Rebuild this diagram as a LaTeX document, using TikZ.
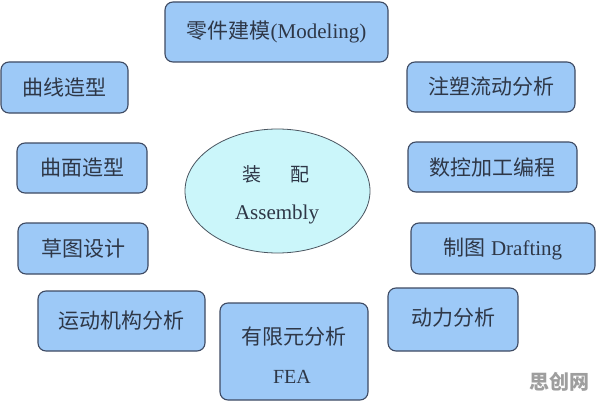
\documentclass[tikz,border=0pt]{standalone}
\usepackage{fontspec}
\setmainfont{Liberation Serif}
\newfontfamily\cjk{Noto Sans CJK SC}
\usetikzlibrary{shapes.geometric}
\definecolor{boxfill}{HTML}{9DC9F7}
\definecolor{boxline}{HTML}{3E4A63}
\definecolor{ellfill}{HTML}{CBF6FA}
\definecolor{ellline}{HTML}{4A5560}
\definecolor{txt}{HTML}{2E3747}
\tikzset{
  boxnode/.style={draw=boxline, fill=boxfill, line width=1.1pt, rounded corners=8pt,
    inner sep=0pt, text=txt, font=\fontsize{21}{24}\selectfont, align=center},
  asmnode/.style={ellipse, draw=ellline, fill=ellfill, line width=0.8pt, inner sep=0pt,
    minimum width=185pt, minimum height=124pt},
  asmtext/.style={text=txt, font=\fontsize{21}{24}\selectfont, inner sep=0pt},
  wmark/.style={text=black!38, font=\cjk\bfseries\fontsize{20}{24}\selectfont, inner sep=0pt}
}
\begin{document}
\begin{tikzpicture}[x=1pt,y=-1pt]
\useasboundingbox[fill=white] (0,0) rectangle (596,401);
\node[boxnode, minimum width=223pt, minimum height=60pt] (model) at (276.5,32)
  {\raisebox{3pt}{{\cjk 零件建模}(Modeling)}};
\node[boxnode, minimum width=127pt, minimum height=51pt] (quxian) at (64.5,87.5) {\cjk 曲线造型};
\node[boxnode, minimum width=130pt, minimum height=50pt] (qumian) at (82,168) {\cjk 曲面造型};
\node[boxnode, minimum width=130pt, minimum height=51pt] (caotu) at (83,248.5) {\cjk 草图设计};
\node[boxnode, minimum width=167pt, minimum height=60pt] (yundong) at (121.5,321) {\cjk 运动机构分析};
\node[boxnode, minimum width=148pt, minimum height=97pt] (fea) at (294,351.5) {};
\node[text=txt, font=\cjk\fontsize{21}{24}\selectfont, inner sep=0pt] (fea1) at (294,337) {有限元分析};
\node[text=txt, font=\fontsize{20}{24}\selectfont, inner sep=0pt] (fea2) at (292,377) {FEA};
\node[boxnode, minimum width=130pt, minimum height=63pt] (dongli) at (453,319.5) {\raisebox{5pt}{\cjk 动力分析}};
\node[boxnode, minimum width=168pt, minimum height=50pt] (zhusu) at (491,87) {\cjk 注塑流动分析};
\node[boxnode, minimum width=169pt, minimum height=50pt] (shukong) at (492.5,167) {\cjk 数控加工编程};
\node[boxnode, minimum width=184pt, minimum height=51pt] (draft) at (503,248.5) {{\cjk 制图} Drafting};
\node[asmnode] (asm) at (277.5,191) {};
\node[asmtext, font=\cjk\fontsize{19}{22}\selectfont] (asm1) at (276,174) {装\hspace{1.5em}配};
\node[asmtext] (asm2) at (277,214) {Assembly};
\node[wmark] (wm) at (559,382) {思创网};
\end{tikzpicture}
\end{document}
